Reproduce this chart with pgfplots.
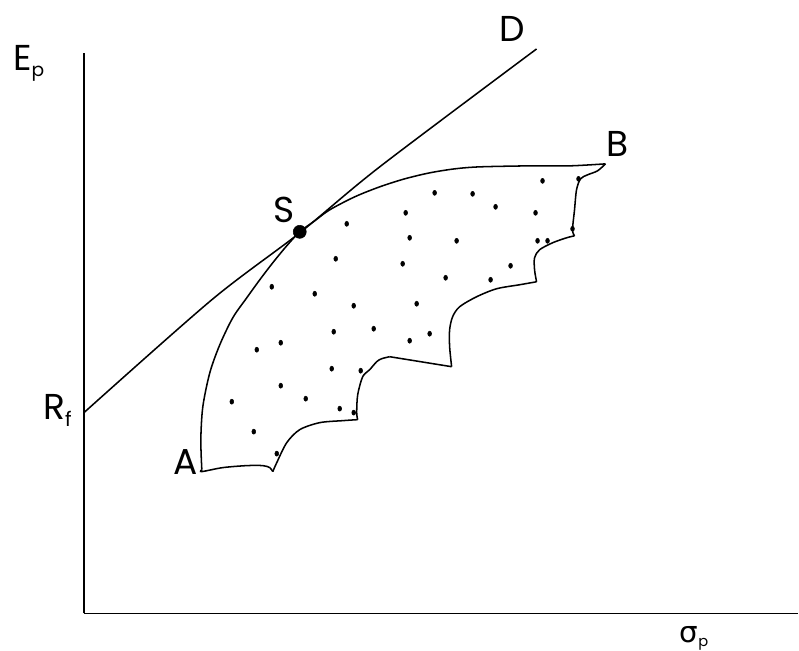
\documentclass[border=0pt]{standalone}
\usepackage{pgfplots}
\pgfplotsset{compat=1.18}
\usepackage{fontspec}
\setmainfont{Poppins}
\newfontfamily\greekfont{DejaVu Sans}

\begin{document}
\begin{tikzpicture}
\begin{axis}[
  scale only axis, width=536.25pt, height=420.75pt,
  xmin=84, xmax=799, ymin=37, ymax=598,
  axis x line=bottom, axis y line=left,
  axis line style={-, line width=1pt},
  xtick=\empty, ytick=\empty,
  clip=false,
]
% page extent
\path (axis cs:0,0) rectangle (axis cs:799,651);

% capital market line from R_f through S to D
\addplot[black, line width=1.15pt, smooth] coordinates {(84,238) (212,351) (300,418) (380,484) (537,602)};

% efficient frontier A -> S -> B
\addplot[black, line width=1.15pt, smooth] coordinates {
 (202,181) (201,211) (203,244) (210,278) (220,306) (233,333) (247,353)
 (260,371) (273,388) (287,405) (300,419) (315,430) (330,441) (355,454)
 (380,464) (405,472) (430,478) (455,482) (480,484) (530,485) (570,485) (606,487)};

% scalloped lower boundary of the feasible set
\addplot[black, line width=1.15pt, smooth] coordinates {
 (606,487) (598,480) (588,476) (581,472) (577,461) (575,441) (573,421) (575,415)};
\addplot[black, line width=1.15pt, smooth] coordinates {
 (575,415) (567,413) (553,408) (540,401) (535,393) (535,381) (537,369)};
\addplot[black, line width=1.15pt, smooth] coordinates {
 (537,369) (520,366) (497,362) (477,354) (460,344) (453,334) (450,321) (450,304) (452,284)};
\addplot[black, line width=1.15pt] coordinates {(452,284) (390,294)};
\addplot[black, line width=1.15pt, smooth] coordinates {
 (390,294) (382,292) (377,289) (370,281) (363,274) (358,256) (357,238) (358,231)};
\addplot[black, line width=1.15pt, smooth] coordinates {
 (358,231) (343,230) (320,228) (300,221) (287,208) (277,188) (273,179)};
\addplot[black, line width=1.15pt, smooth] coordinates {
 (273,179) (270,183) (263,185) (247,185) (223,183) (202,179) (202,181)};

% individual portfolios
\addplot[only marks, mark=*, mark size=1.9pt, mark options={xscale=0.75, fill=black, draw=black}] coordinates {
 (543,470) (579,472) (435,458) (473,457) (496,444) (406,438) (536,438)
 (347,427) (573,422) (410,413) (457,410) (538,410) (548,410) (336,392)
 (403,387) (511,385) (446,373) (491,371) (272,364) (315,357) (354,345)
 (417,347) (334,319) (374,322) (430,317) (410,310) (257,301) (281,308)
 (332,282) (361,280) (281,265) (232,249) (306,252) (340,242) (354,238)
 (254,219) (277,197)};

% tangency portfolio S
\addplot[only marks, mark=*, mark size=4.9pt, mark options={fill=black, draw=black}] coordinates {(300,419)};

% labels
\node[anchor=base west, inner sep=0, font=\fontsize{27}{27}\selectfont] at (axis cs:13,580)
  {E\raisebox{-4.5pt}{\fontsize{14}{14}\selectfont p}};
\node[anchor=base west, inner sep=0, font=\fontsize{27}{27}\selectfont] at (axis cs:43,231)
  {R\raisebox{-5pt}{\fontsize{15}{15}\selectfont f}};
\node[anchor=base west, inner sep=0, font=\fontsize{27}{27}\selectfont] at (axis cs:173,176) {A};
\node[anchor=base west, inner sep=0, font=\fontsize{27}{27}\selectfont] at (axis cs:273,428) {S};
\node[anchor=base west, inner sep=0, font=\fontsize{27}{27}\selectfont] at (axis cs:500,609) {D};
\node[anchor=base west, inner sep=0, font=\fontsize{27}{27}\selectfont] at (axis cs:607,494) {B};
\node[anchor=base west, inner sep=0] at (axis cs:680,8)
  {{\greekfont\fontsize{22}{22}\selectfont σ}\raisebox{-3pt}{\fontsize{11}{11}\selectfont p}};
\end{axis}
\end{tikzpicture}
\end{document}
